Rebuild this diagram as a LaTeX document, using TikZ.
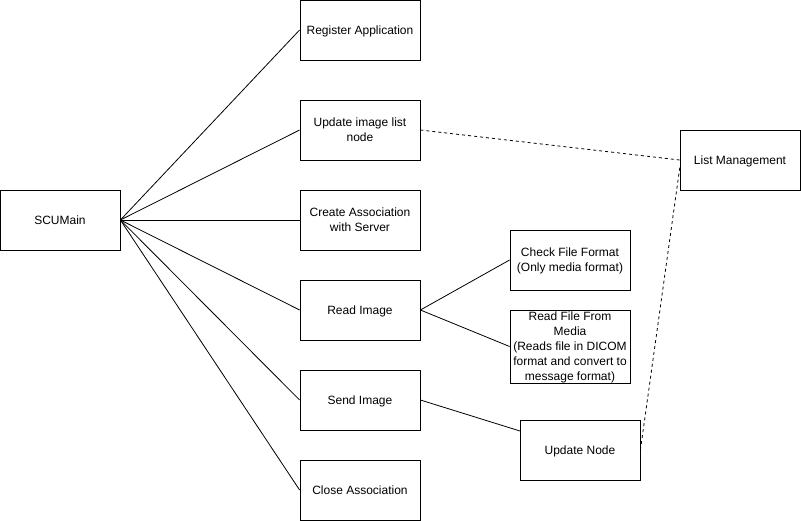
\documentclass[tikz,border=0pt]{standalone}
\usepackage{fontspec}
\setmainfont{Liberation Sans}
\begin{document}
\begin{tikzpicture}[x=1pt,y=-1pt,
  box/.style={draw,line width=0.8pt,minimum width=120pt,minimum height=60pt,align=center,inner sep=1pt,text depth=0pt,font=\fontsize{12}{15}\selectfont},
  conn/.style={line width=0.8pt},
  dconn/.style={line width=0.8pt,dash pattern=on 3pt off 3pt}]
\useasboundingbox (0,0) rectangle (801,521);
\node[box] (scu) at (60,220) {SCUMain};
\node[box] (reg) at (360,30) {Register Application};
\node[box] (upd) at (360,130) {Update image list\\node};
\node[box] (cre) at (360,220) {Create Association\\with Server};
\node[box] (read) at (360,310) {Read Image};
\node[box] (send) at (360,400) {Send Image};
\node[box] (close) at (360,490) {Close Association};
\node[box] (chk) at (570,260) {Check File Format\\(Only media format)};
\node[box,minimum height=73pt] (rfm) at (570,346.5) {Read File From\\Media\\(Reads file in DICOM\\format and convert to\\message format)};
\node[box] (un) at (580,450) {Update Node};
\node[box] (lm) at (740,160) {List Management};
\foreach \t in {reg,upd,cre,read,send,close}
  \draw[conn] (scu.east) -- (\t.west);
\draw[conn] (read.east) -- (chk.west);
\draw[conn] (read.east) -- (rfm.west);
\coordinate (unin) at (520,431);
\draw[conn] (send.east) -- (unin);
\draw[dconn] (upd.east) -- (lm.west);
\coordinate (lmin) at (680,166);
\draw[dconn] (un.east) -- (lmin);
\end{tikzpicture}
\end{document}
